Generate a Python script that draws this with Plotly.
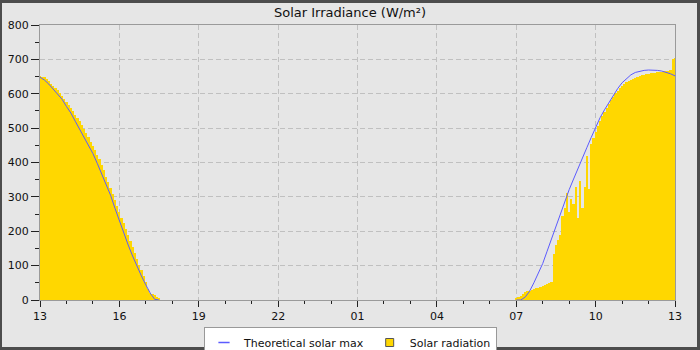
import pandas as pd
import plotly.graph_objects as go

# Measured solar radiation, 5-minute samples (W/m²)
afternoon_start = "2024-06-10 13:00"
afternoon_radiation = [
    652, 650, 648, 643, 636, 629, 623, 616, 610, 603, 594, 585,
    576, 567, 558, 549, 539, 530, 520, 509, 497, 485, 473, 461,
    448, 435, 423, 410, 394, 377, 359, 342, 325, 308, 291, 274,
    257, 240, 223, 206, 189, 172, 155, 138, 120, 103, 86, 69,
    52, 32, 20, 17, 15, 10, 6, 0,
]
morning_start = "2024-06-11 07:00"
morning_radiation = [
    5, 8, 12, 18, 22, 25, 27, 29, 32, 34, 36, 38,
    40, 43, 46, 49, 52, 135, 160, 176, 190, 245, 268, 312,
    255, 295, 280, 330, 240, 345, 268, 330, 420, 322, 455, 470,
    488, 505, 520, 534, 548, 560, 571, 582, 592, 601, 609, 616,
    622, 628, 633, 637, 641, 644, 647, 650, 652, 654, 656, 657,
    658, 659, 660, 661, 662, 663, 664, 665, 666, 667, 668, 702, 705,
]

# Theoretical clear-sky maximum, 10-minute samples (W/m²)
afternoon_max = [
    648, 640, 628, 614, 599, 584, 563, 544, 520, 497, 475, 453,
    426, 397, 367, 336, 305, 267, 230, 194, 160, 128, 98, 70,
    44, 20, 2, 0,
]
morning_max = [
    0, 0, 8, 25, 50, 80, 106, 142, 178, 214, 250, 288,
    321, 352, 384, 414, 443, 473, 503, 530, 553, 575, 595, 615,
    632, 645, 655, 662, 666, 668, 669, 669, 668, 666, 663, 658, 652,
]

t_bar_pm = pd.date_range(afternoon_start, periods=len(afternoon_radiation), freq="5min")
t_bar_am = pd.date_range(morning_start, periods=len(morning_radiation), freq="5min")
t_max_pm = pd.date_range(afternoon_start, periods=len(afternoon_max), freq="10min")
t_max_am = pd.date_range(morning_start, periods=len(morning_max), freq="10min")

bar_x = list(t_bar_pm) + list(t_bar_am)
bar_y = afternoon_radiation + morning_radiation
line_x = list(t_max_pm) + [None] + list(t_max_am)
line_y = afternoon_max + [None] + morning_max

GOLD = "#FFD700"
BLUE = "#5b5bff"
FONT = "DejaVu Sans"

fig = go.Figure()
fig.add_trace(go.Bar(
    x=bar_x, y=bar_y, width=5 * 60 * 1000,
    marker=dict(color=GOLD, line=dict(width=0)),
    name="Solar radiation", legendgroup="rad", showlegend=False,
))
fig.add_trace(go.Scatter(
    x=line_x, y=line_y, mode="lines",
    line=dict(color=BLUE, width=1),
    name="Theoretical solar max", legendgroup="max", showlegend=False,
))
# compact legend symbols
fig.add_trace(go.Scatter(
    x=[None], y=[None], mode="markers", name="Theoretical solar max",
    legendgroup="max",
    marker=dict(symbol="line-ew", size=8, line=dict(color=BLUE, width=1.5)),
))
fig.add_trace(go.Scatter(
    x=[None], y=[None], mode="markers", name="Solar radiation",
    legendgroup="rad",
    marker=dict(symbol="square", size=8, color=GOLD, line=dict(color="#555", width=1)),
))

W, H = 700, 350
ml, mr, mt, mb = 40, 25, 25, 50
pw, ph = W - ml - mr, H - mt - mb

def px_x(p):
    return (p - ml) / pw

def px_y(p):
    return (H - mb - p) / ph

# light panel inset in a dark frame
fig.add_shape(type="rect", xref="paper", yref="paper",
              x0=px_x(2), x1=px_x(697), y0=px_y(347), y1=px_y(3),
              fillcolor="#e6e6e6", line=dict(width=0), layer="below")

fig.update_layout(
    width=W, height=H,
    margin=dict(l=ml, r=mr, t=mt, b=mb, autoexpand=False),
    paper_bgcolor="#4d4d4d",
    plot_bgcolor="#e6e6e6",
    font=dict(family=FONT, size=11, color="#111"),
    title=dict(text="Solar Irradiance (W/m²)", x=0.5, xref="container",
               y=1 - 12 / H, yref="container", yanchor="middle",
               xanchor="center", font=dict(size=13, color="#111")),
    bargap=0,
    showlegend=True,
    legend=dict(orientation="h", x=px_x(350.5), xanchor="center",
                y=px_y(327), yanchor="top", bgcolor="#ffffff",
                bordercolor="#999999", borderwidth=1,
                font=dict(size=11, color="#111"), itemwidth=30),
)

fig.update_xaxes(
    type="date",
    range=["2024-06-10 13:00", "2024-06-11 13:00"],
    dtick=3 * 3600 * 1000, tick0="2024-06-10 13:00", tickformat="%H",
    ticks="outside", ticklen=6, tickcolor="#222",
    minor=dict(dtick=3600 * 1000, ticks="outside", ticklen=3, tickcolor="#222", showgrid=False),
    showline=True, linecolor="#9a9a9a", linewidth=1, mirror=True,
    showgrid=True, gridcolor="#c0c0c0", griddash="5px,3px", gridwidth=1,
    zeroline=False, fixedrange=True,
)
fig.update_yaxes(
    range=[0, 800], dtick=100, tick0=0,
    ticks="outside", ticklen=8, tickcolor="#222",
    minor=dict(dtick=50, ticks="outside", ticklen=4, tickcolor="#222", showgrid=False),
    showline=True, linecolor="#9a9a9a", linewidth=1, mirror=True,
    showgrid=True, gridcolor="#c0c0c0", griddash="5px,3px", gridwidth=1,
    zeroline=False, fixedrange=True,
)

fig.write_html("out.html")
